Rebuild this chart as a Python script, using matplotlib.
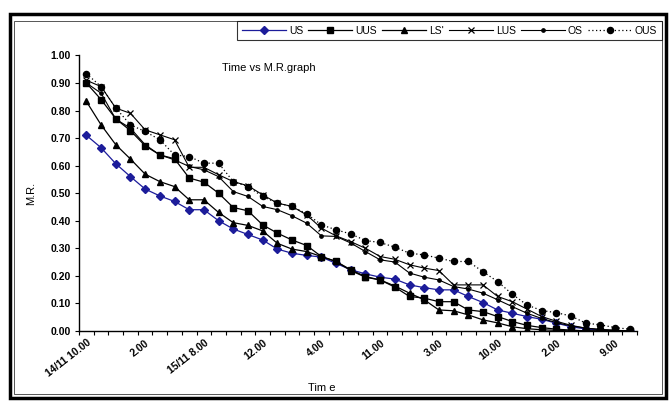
import matplotlib
matplotlib.use("Agg")
import matplotlib.pyplot as plt
import numpy as np
from matplotlib.patches import Rectangle
from matplotlib.ticker import FixedLocator, FormatStrFormatter

plt.rcParams['font.family'] = ['Liberation Sans', 'DejaVu Sans']

tick_labels = ["14/11 10.00", "2.00", "15/11 8.00", "12.00", "4.00",
               "11.00", "3.00", "10.00", "2.00", "9.00"]

us = [0.71, 0.665, 0.607, 0.56, 0.515, 0.49, 0.47, 0.44, 0.44, 0.40,
      0.37, 0.35, 0.33, 0.297, 0.282, 0.274, 0.268, 0.245, 0.222, 0.207,
      0.195, 0.188, 0.167, 0.157, 0.149, 0.149, 0.125, 0.103, 0.076, 0.064,
      0.052, 0.042, 0.028, 0.015, 0.007, 0.003, 0.0, 0.0]
uus = [0.90, 0.84, 0.77, 0.727, 0.672, 0.639, 0.625, 0.555, 0.54, 0.50,
       0.448, 0.436, 0.385, 0.355, 0.33, 0.31, 0.27, 0.252, 0.222, 0.197,
       0.185, 0.159, 0.125, 0.119, 0.106, 0.106, 0.076, 0.07, 0.052, 0.034,
       0.02, 0.012, 0.006, 0.003, 0.0, 0.0, 0.0, 0.0]
ls = [0.833, 0.748, 0.676, 0.624, 0.569, 0.542, 0.524, 0.476, 0.476, 0.43,
      0.393, 0.383, 0.363, 0.318, 0.297, 0.288, 0.27, 0.252, 0.219, 0.195,
      0.185, 0.163, 0.137, 0.113, 0.076, 0.073, 0.058, 0.04, 0.029, 0.015,
      0.008, 0.004, 0.002, 0.0, 0.0, 0.0, 0.0, 0.0]
lus = [0.91, 0.887, 0.809, 0.79, 0.73, 0.712, 0.694, 0.594, 0.594, 0.567,
       0.542, 0.527, 0.494, 0.464, 0.452, 0.421, 0.373, 0.345, 0.324, 0.30,
       0.27, 0.26, 0.24, 0.228, 0.219, 0.167, 0.167, 0.167, 0.125, 0.106,
       0.079, 0.052, 0.035, 0.02, 0.01, 0.005, 0.002, 0.0]
os_ = [0.90, 0.863, 0.769, 0.736, 0.676, 0.639, 0.621, 0.597, 0.585, 0.56,
       0.506, 0.488, 0.452, 0.44, 0.418, 0.391, 0.345, 0.343, 0.319, 0.288,
       0.258, 0.25, 0.21, 0.195, 0.185, 0.161, 0.152, 0.137, 0.113, 0.088,
       0.064, 0.045, 0.03, 0.018, 0.01, 0.005, 0.002, 0.0]
ous = [0.934, 0.887, 0.809, 0.748, 0.724, 0.694, 0.639, 0.633, 0.609, 0.609,
       0.542, 0.524, 0.488, 0.464, 0.452, 0.425, 0.385, 0.367, 0.352, 0.328,
       0.321, 0.304, 0.282, 0.276, 0.264, 0.252, 0.252, 0.215, 0.179, 0.133,
       0.094, 0.074, 0.066, 0.054, 0.028, 0.022, 0.012, 0.006]

fig = plt.figure(figsize=(6.7, 4.05), dpi=100)
ax = fig.add_axes([0.118, 0.183, 0.833, 0.680])

x = np.arange(len(us))
ax.plot(x, us, color='#1c1c9a', lw=0.9, marker='D', ms=3.8, label='US')
ax.plot(x, uus, color='black', lw=0.9, marker='s', ms=4.2, label='UUS')
ax.plot(x, ls, color='black', lw=0.9, marker='^', ms=4.6, label="LS'")
ax.plot(x, lus, color='black', lw=0.8, marker='x', ms=4.5, mew=0.9, label='LUS')
ax.plot(x, os_, color='black', lw=0.8, marker='o', ms=2.4, label='OS')
ax.plot(x, ous, color='black', lw=0.9, ls=(0, (1, 2)), marker='o', ms=4.4,
        label='OUS')

ax.set_xlim(-0.5, len(us) - 0.5)
ax.set_ylim(0, 1.0)
ax.set_yticks(np.arange(0, 1.01, 0.1))
ax.yaxis.set_major_formatter(FormatStrFormatter('%.2f'))
ax.tick_params(axis='y', labelsize=7.5, length=3, width=0.8, direction='out', pad=3)
for t in ax.get_yticklabels():
    t.set_fontweight('bold')

label_pos = np.arange(0, len(us), 4)[:len(tick_labels)]
ax.set_xticks(label_pos)
ax.set_xticklabels(tick_labels, rotation=38, ha='right', rotation_mode='anchor',
                   fontsize=7.5, fontweight='bold')
ax.tick_params(axis='x', which='major', length=0, pad=5)
ax.xaxis.set_minor_locator(FixedLocator(np.arange(-0.5, len(us), 1.0)))
ax.tick_params(axis='x', which='minor', length=3, width=0.8, direction='out')

for s in ['top', 'right']:
    ax.spines[s].set_visible(False)
for s in ['left', 'bottom']:
    ax.spines[s].set_linewidth(1.0)

ax.set_ylabel('M.R.', fontsize=8, labelpad=10)
ax.set_xlabel('Tim e', fontsize=8)
ax.xaxis.set_label_coords(0.435, -0.19)

fig.text(0.331, 0.832, 'Time vs M.R.graph', fontsize=8, ha='left', va='center')

leg = fig.legend(loc='upper right', bbox_to_anchor=(0.988, 0.948), ncol=6,
                 fontsize=7.5, frameon=True, fancybox=False, edgecolor='black',
                 handlelength=4.2, columnspacing=0.5, handletextpad=0.3,
                 borderpad=0.45, borderaxespad=0)
leg.get_frame().set_linewidth(0.8)

fig.patches.append(Rectangle((0.015, 0.017), 0.979, 0.948, transform=fig.transFigure,
                             fill=False, edgecolor='black', lw=2.5))
fig.patches.append(Rectangle((0.021, 0.027), 0.967, 0.921, transform=fig.transFigure,
                             fill=False, edgecolor='#555555', lw=0.7))

fig.savefig('out.png', dpi=100)
